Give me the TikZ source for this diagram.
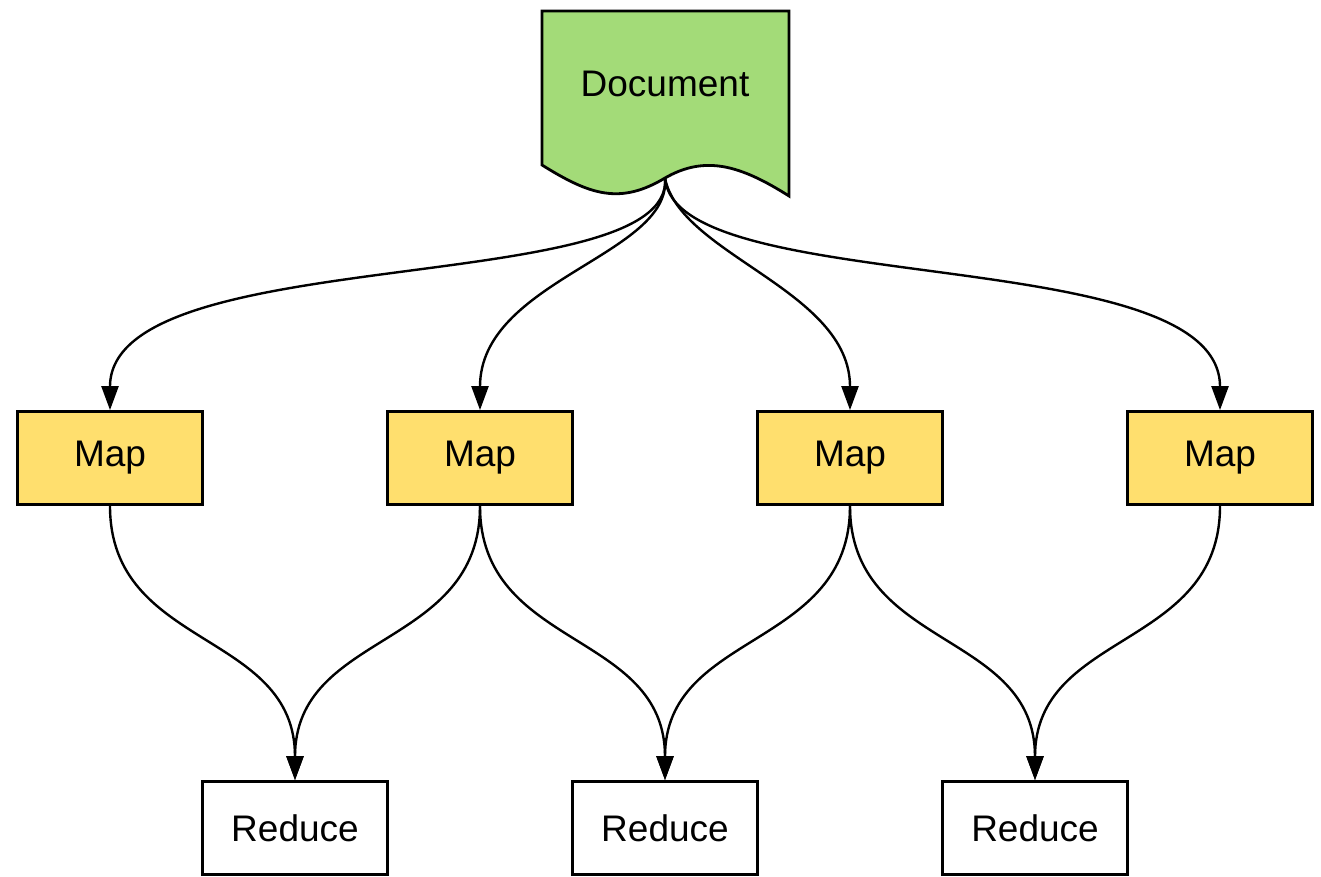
\documentclass[tikz,border=0pt]{standalone}
\usepackage{fontspec}
\setmainfont{Liberation Sans}
\usetikzlibrary{arrows.meta}
\definecolor{docgreen}{HTML}{A3DB78}
\definecolor{mapyellow}{HTML}{FFDF6E}
\tikzset{
  lbl/.style={font=\fontsize{37}{44}\selectfont},
  box/.style={draw=black, line width=2.8pt, minimum width=185pt, minimum height=93pt, inner sep=0pt, lbl},
  mapbox/.style={box, fill=mapyellow},
  redbox/.style={box, fill=white},
  conn/.style={draw=black, line width=2.4pt, -{Triangle[length=24pt,width=17pt]}},
}
\begin{document}
\begin{tikzpicture}[x=1pt,y=-1pt]
\useasboundingbox (0,0) rectangle (1321,876);
% document shape
\draw[line width=2.8pt, fill=docgreen, line join=miter]
  (542,11) -- (789,11) -- (789,196)
  .. controls (740,165) and (705,155) .. (665,178)
  .. controls (620,205) and (590,195) .. (542,165) -- cycle;
\node[lbl] (doc) at (665,84) {Document};
\coordinate (docout) at (665,178);
% map nodes
\node[mapbox] (m1) at (110,458) {Map};
\node[mapbox] (m2) at (480,458) {Map};
\node[mapbox] (m3) at (850,458) {Map};
\node[mapbox] (m4) at (1220,458) {Map};
% reduce nodes
\node[redbox] (r1) at (295,828) {Reduce};
\node[redbox] (r2) at (665,828) {Reduce};
\node[redbox] (r3) at (1035,828) {Reduce};
% document to maps
\draw[conn] (docout) .. controls (675,300) and (110,240) .. (m1.north);
\draw[conn] (docout) .. controls (672,255) and (480,280) .. (m2.north);
\draw[conn] (docout) .. controls (680,255) and (850,290) .. (m3.north);
\draw[conn] (docout) .. controls (675,300) and (1220,240) .. (m4.north);
% maps to reduces
\draw[conn] (m1.south) .. controls (110,650) and (295,630) .. (r1.north);
\draw[conn] (m2.south) .. controls (480,650) and (295,630) .. (r1.north);
\draw[conn] (m2.south) .. controls (480,650) and (665,630) .. (r2.north);
\draw[conn] (m3.south) .. controls (850,650) and (665,630) .. (r2.north);
\draw[conn] (m3.south) .. controls (850,650) and (1035,630) .. (r3.north);
\draw[conn] (m4.south) .. controls (1220,650) and (1035,630) .. (r3.north);
\end{tikzpicture}
\end{document}
